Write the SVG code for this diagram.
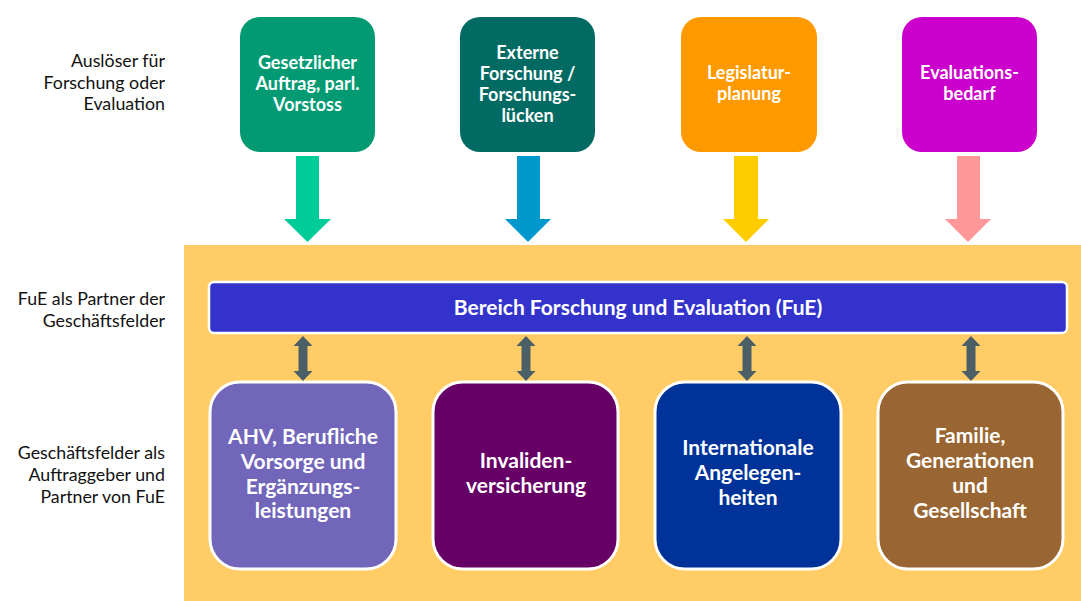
<svg xmlns="http://www.w3.org/2000/svg" width="1081" height="601" viewBox="0 0 1081 601">
<defs>
<style>
.lbl{font-family:Lato,"Liberation Sans",sans-serif;font-size:17.8px;fill:#111;text-anchor:end}
.tt{font-family:Lato,"Liberation Sans",sans-serif;font-size:18px;font-weight:bold;fill:#fff;text-anchor:middle}
.bt{font-family:Lato,"Liberation Sans",sans-serif;font-size:21px;font-weight:bold;fill:#fff;text-anchor:middle}
.bar{font-family:Lato,"Liberation Sans",sans-serif;font-size:21px;font-weight:bold;fill:#fff;text-anchor:middle}
.bx{stroke:#fff;stroke-width:3}
.dbl{fill:#4A5F66}
</style>
</defs>
<rect width="1081" height="601" fill="#fff"/>
<rect id="bg" x="184" y="245" width="897" height="356" fill="#FFCC66"/>

<g id="labels">
<text class="lbl" x="165" y="67">Auslöser für</text>
<text class="lbl" x="165" y="89">Forschung oder</text>
<text class="lbl" x="165" y="110">Evaluation</text>
<text class="lbl" x="165" y="305">FuE als Partner der</text>
<text class="lbl" x="165" y="327">Geschäftsfelder</text>
<text class="lbl" x="165" y="459">Geschäftsfelder als</text>
<text class="lbl" x="165" y="481">Auftraggeber und</text>
<text class="lbl" x="165" y="503">Partner von FuE</text>
</g>

<g id="t1"><rect x="240" y="17" width="135" height="135" rx="20" fill="#029A72"/>
<text class="tt" x="307.5" y="69">Gesetzlicher</text><text class="tt" x="307.5" y="90">Auftrag, parl.</text><text class="tt" x="307.5" y="111">Vorstoss</text></g>
<g id="t2"><rect x="460" y="17" width="135" height="135" rx="20" fill="#016B63"/>
<text class="tt" x="527.5" y="59">Externe</text><text class="tt" x="527.5" y="80">Forschung /</text><text class="tt" x="527.5" y="101">Forschungs-</text><text class="tt" x="527.5" y="122">lücken</text></g>
<g id="t3"><rect x="681" y="17" width="136" height="135" rx="20" fill="#FF9900"/>
<text class="tt" x="749" y="79">Legislatur-</text><text class="tt" x="749" y="100">planung</text></g>
<g id="t4"><rect x="902" y="17" width="135" height="135" rx="20" fill="#CC00CC"/>
<text class="tt" x="969.5" y="79">Evaluations-</text><text class="tt" x="969.5" y="100">bedarf</text></g>

<g id="fue"><rect x="209" y="282" width="858" height="51" rx="5" fill="#3333CC" stroke="#fff" stroke-width="2.5"/>
<text class="bar" x="638" y="315">Bereich Forschung und Evaluation (FuE)</text></g>

<g id="b1"><rect class="bx" x="210" y="382" width="186" height="187" rx="30" fill="#7166BA"/>
<text class="bt" x="303" y="444">AHV, Berufliche</text><text class="bt" x="303" y="469">Vorsorge und</text><text class="bt" x="303" y="494">Ergänzungs-</text><text class="bt" x="303" y="518">leistungen</text></g>
<g id="b2"><rect class="bx" x="433" y="382" width="185" height="187" rx="30" fill="#660066"/>
<text class="bt" x="526" y="468">Invaliden-</text><text class="bt" x="526" y="493">versicherung</text></g>
<g id="b3"><rect class="bx" x="655" y="382" width="186" height="187" rx="30" fill="#003399"/>
<text class="bt" x="748" y="455">Internationale</text><text class="bt" x="748" y="480">Angelegen-</text><text class="bt" x="748" y="505">heiten</text></g>
<g id="b4"><rect class="bx" x="878" y="382" width="185" height="187" rx="30" fill="#996633"/>
<text class="bt" x="970" y="443">Familie,</text><text class="bt" x="970" y="468">Generationen</text><text class="bt" x="970" y="493">und</text><text class="bt" x="970" y="518">Gesellschaft</text></g>

<g id="connectors">
<polygon points="296,156 319,156 319,219 331,219 307.5,242 284,219 296,219" fill="#00CC99"/>
<polygon points="517,156 540,156 540,219 551,219 528,242 505,219 517,219" fill="#0099CC"/>
<polygon points="734,156 758,156 758,219 769,219 746,242 723,219 734,219" fill="#FFCC00"/>
<polygon points="957,156 980,156 980,219 991,219 968,242 945,219 957,219" fill="#FF9999"/>
<polygon class="dbl" transform="translate(303,0)" points="0,336 9.5,346 4.5,346 4.5,371 9.5,371 0,381 -9.5,371 -4.5,371 -4.5,346 -9.5,346"/>
<polygon class="dbl" transform="translate(526,0)" points="0,336 9.5,346 4.5,346 4.5,371 9.5,371 0,381 -9.5,371 -4.5,371 -4.5,346 -9.5,346"/>
<polygon class="dbl" transform="translate(747,0)" points="0,336 9.5,346 4.5,346 4.5,371 9.5,371 0,381 -9.5,371 -4.5,371 -4.5,346 -9.5,346"/>
<polygon class="dbl" transform="translate(971,0)" points="0,336 9.5,346 4.5,346 4.5,371 9.5,371 0,381 -9.5,371 -4.5,371 -4.5,346 -9.5,346"/>
</g>
</svg>
